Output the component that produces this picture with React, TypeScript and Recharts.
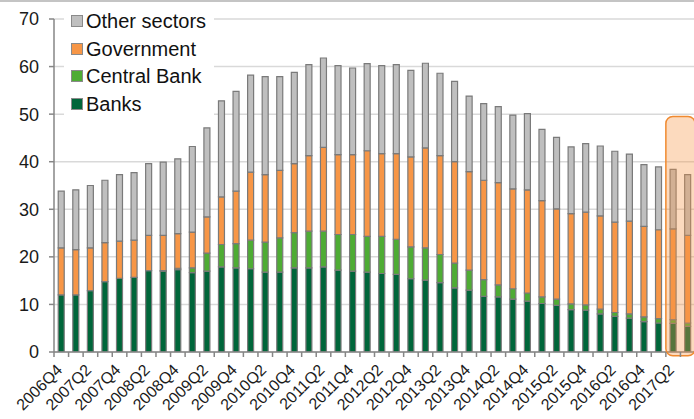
import React from 'react';
import {
    BarChart,
    Bar,
    XAxis,
    YAxis,
    CartesianGrid,
    Legend,
    ReferenceArea
} from 'recharts';

const quarters = [
    '2006Q4', '2007Q1', '2007Q2', '2007Q3', '2007Q4', '2008Q1', '2008Q2', '2008Q3',
    '2008Q4', '2009Q1', '2009Q2', '2009Q3', '2009Q4', '2010Q1', '2010Q2', '2010Q3',
    '2010Q4', '2011Q1', '2011Q2', '2011Q3', '2011Q4', '2012Q1', '2012Q2', '2012Q3',
    '2012Q4', '2013Q1', '2013Q2', '2013Q3', '2013Q4', '2014Q1', '2014Q2', '2014Q3',
    '2014Q4', '2015Q1', '2015Q2', '2015Q3', '2015Q4', '2016Q1', '2016Q2', '2016Q3',
    '2016Q4', '2017Q1', '2017Q2', '2017Q3'
];

const banks = [
    12.0, 12.0, 12.9, 14.8, 15.5, 15.7, 17.1, 17.0, 17.3, 16.7, 17.0, 17.9,
    17.7, 17.5, 16.8, 16.8, 17.7, 17.7, 17.9, 17.2, 17.0, 16.8, 16.5, 16.3,
    15.4, 15.1, 14.6, 13.5, 13.0, 11.7, 11.6, 11.1, 10.7, 10.2, 9.8, 8.9,
    8.8, 8.0, 7.5, 7.1, 6.4, 6.1, 6.0, 5.4
];

const centralBank = [
    0, 0, 0, 0, 0, 0, 0, 0.1, 0.3, 1.0, 3.8, 4.7,
    5.1, 6.0, 6.3, 7.2, 7.4, 7.7, 7.5, 7.5, 7.7, 7.5, 7.8, 7.4,
    6.7, 6.8, 5.9, 5.2, 4.2, 3.5, 2.5, 2.2, 1.7, 1.4, 1.3, 1.2,
    1.1, 1.0, 0.8, 0.9, 1.0, 0.9, 0.8, 0.7
];

const government = [
    9.9, 9.5, 9.0, 8.2, 7.8, 7.8, 7.4, 7.4, 7.3, 7.5, 7.6, 10.0,
    11.0, 14.3, 14.2, 14.2, 14.5, 15.9, 17.6, 16.8, 16.8, 18.0, 17.4, 18.0,
    18.9, 21.0, 20.8, 21.3, 20.7, 20.9, 21.5, 21.0, 21.7, 20.2, 19.0, 19.0,
    19.5, 19.6, 19.0, 19.5, 19.0, 18.7, 19.1, 18.4
];

const otherSectors = [
    11.9, 12.6, 13.1, 13.1, 14.0, 14.2, 15.1, 15.4, 15.7, 18.0, 18.7, 20.2,
    21.0, 20.4, 20.6, 19.7, 19.2, 19.1, 18.8, 18.7, 18.2, 18.3, 18.5, 18.7,
    18.2, 17.8, 17.3, 16.9, 15.9, 16.1, 16.0, 15.5, 16.0, 15.0, 15.0, 14.0,
    14.4, 14.7, 14.9, 14.1, 13.0, 13.2, 12.5, 12.8
];

const yTicks = [0, 10, 20, 30, 40, 50, 60, 70];
const highlightFrom = '2017Q2';
const highlightTo = '2017Q3';

const series = [
    { key: 'other', label: 'Other sectors', color: '#bfbfbf' },
    { key: 'government', label: 'Government', color: '#f79646' },
    { key: 'centralBank', label: 'Central Bank', color: '#4eac34' },
    { key: 'banks', label: 'Banks', color: '#00663a' }
];

const CHART_W = 696;
const CHART_H = 419;
const Y_AXIS_W = 54;
const MARGIN = { top: 19, right: 1, left: 0, bottom: 0 };
const STEP = (CHART_W - MARGIN.left - MARGIN.right - Y_AXIS_W) / quarters.length;
const AXIS_GREY = '#868686';
const BAR_EDGE = '#7a7a7a';
const FONT = '"Liberation Sans", Arial, sans-serif';

const data = quarters.map((q, i) => ({
    q,
    banks: banks[i],
    centralBank: centralBank[i],
    government: government[i],
    other: otherSectors[i]
}));

// tick marks sit between categories, labels on every second quarter
const QuarterTick = (props: any) => {
    const { x, y, payload, index } = props;
    const i = payload && payload.index !== undefined ? payload.index : index;
    const bx = x - STEP / 2;
    const tx = x + 2;
    const ty = y + 19;
    return (
        <g>
            <line x1={bx} y1={y} x2={bx} y2={y + 5} stroke={AXIS_GREY} strokeWidth={1.5} />
            {i % 2 === 0 && (
                <text
                    x={tx}
                    y={ty}
                    textAnchor="end"
                    fontSize={16}
                    fill="#1a1a1a"
                    fontFamily={FONT}
                    transform={`rotate(-45 ${tx} ${ty})`}
                >
                    {payload.value}
                </text>
            )}
        </g>
    );
};

const LegendBox = () => (
    <div style={{ background: '#fff', padding: '3px 8px 6px 7px', fontFamily: FONT }}>
        {series.map(s => (
            <div key={s.key} style={{ display: 'flex', alignItems: 'center', height: 27.7 }}>
                <span
                    style={{
                        display: 'inline-block',
                        width: 10,
                        height: 10,
                        background: s.color,
                        border: '1px solid #8a8a8a',
                        marginRight: 3
                    }}
                />
                <span style={{ fontSize: 20, color: '#111', lineHeight: '22px' }}>{s.label}</span>
            </div>
        ))}
    </div>
);

const HighlightShape = (p: any) => (
    <rect
        x={p.x}
        y={p.y}
        width={p.width}
        height={p.height}
        rx={7}
        ry={7}
        fill="rgba(247, 150, 70, 0.35)"
        stroke="#f08a30"
        strokeWidth={1.5}
    />
);

const App: React.FC = () => {
    return (
        <div style={{ position: 'absolute', left: 0, top: 0, width: 694, height: 419, overflow: 'hidden', background: '#fff' }}>
            <div style={{ position: 'absolute', left: 0, top: 0, width: 694, height: 2, background: '#c4c4c4' }} />
            <BarChart
                width={CHART_W}
                height={CHART_H}
                data={data}
                margin={MARGIN}
                barCategoryGap="29%"
            >
                <CartesianGrid vertical={false} stroke="#d9d9d9" strokeWidth={1.5} />
                <XAxis
                    dataKey="q"
                    interval={0}
                    tickSize={0}
                    tickMargin={0}
                    tickLine={false}
                    axisLine={{ stroke: AXIS_GREY, strokeWidth: 1.5 }}
                    tick={<QuarterTick />}
                    height={67}
                />
                <YAxis
                    domain={[0, 70]}
                    ticks={yTicks}
                    width={Y_AXIS_W}
                    tickSize={5}
                    tickMargin={10}
                    tickLine={{ stroke: AXIS_GREY, strokeWidth: 1.5 }}
                    axisLine={{ stroke: AXIS_GREY, strokeWidth: 1.5 }}
                    tick={{ fontSize: 18, fill: '#1a1a1a', fontFamily: FONT }}
                    allowDataOverflow
                />
                <Legend
                    layout="vertical"
                    align="center"
                    verticalAlign="middle"
                    wrapperStyle={{ top: 4, left: 64, width: 'auto' }}
                    content={<LegendBox />}
                />
                <Bar dataKey="banks" stackId="a" fill="#00663a" stroke={BAR_EDGE} strokeWidth={1.2} isAnimationActive={false} />
                <Bar dataKey="centralBank" stackId="a" fill="#4eac34" stroke={BAR_EDGE} strokeWidth={1.2} isAnimationActive={false} />
                <Bar dataKey="government" stackId="a" fill="#f79646" stroke={BAR_EDGE} strokeWidth={1.2} isAnimationActive={false} />
                <Bar dataKey="other" stackId="a" fill="#bfbfbf" stroke={BAR_EDGE} strokeWidth={1.2} isAnimationActive={false} />
                <ReferenceArea
                    x1={highlightFrom}
                    x2={highlightTo}
                    y1={-0.8}
                    y2={49.5}
                    ifOverflow="visible"
                    shape={<HighlightShape />}
                    zIndex={700}
                />
            </BarChart>
        </div>
    );
};

export default App;
